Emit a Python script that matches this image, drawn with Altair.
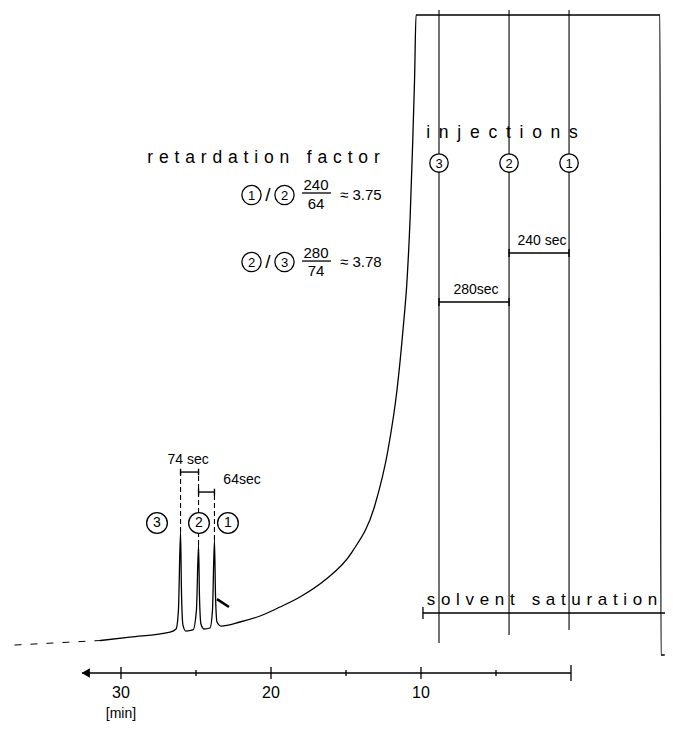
import altair as alt
import pandas as pd

FONT = "Liberation Sans"

# ---------------- data ----------------
# detector trace: time [min] (time runs right -> left) and signal (arbitrary units)
trace_time = [31.40, 29.40, 26.73, 26.33, 26.17, 26.03, 25.97, 25.87, 25.67, 25.20,
              24.97, 24.83, 24.77, 24.67, 24.47, 24.07, 23.90, 23.77, 23.70, 23.60,
              23.33, 22.07, 20.73, 19.40, 18.07, 16.40, 14.60, 13.07, 12.20, 11.60,
              11.20, 10.93, 10.73, 10.57, 10.43, 10.33, -5.93, -6.00, -6.25]
trace_signal = [4.92, 5.45, 6.21, 6.67, 9.55, 21.36, 12.58, 7.27, 6.36, 6.52,
                9.55, 19.39, 11.82, 7.42, 6.67, 6.82, 9.55, 20.15, 11.82, 7.73,
                7.12, 7.73, 8.64, 10.00, 11.52, 14.09, 18.33, 25.45, 33.79, 42.88,
                51.97, 59.55, 68.64, 79.24, 89.85, 99.70, 99.70, 2.73, 2.73]
early_time = [37.1, 31.4]
early_signal = [4.24, 4.92]

peak_names = ["1", "2", "3"]
peak_time = [23.77, 24.83, 26.03]
peak_height = [20.15, 19.39, 21.36]
peak_gaps = ["64sec", "74 sec"]

inj_names = ["1", "2", "3"]
inj_time = [0.13, 4.13, 8.80]
inj_gaps = ["240 sec", "280sec"]

ratio_pairs = [("1", "2"), ("2", "3")]
ratio_num = ["240", "280"]
ratio_den = ["64", "74"]
ratio_val = ["3.75", "3.78"]

axis_major = [30, 20, 10]
axis_minor = [25, 15, 5]
axis_end = 0

title_ret = "retardation factor"
title_inj = "injections"
title_solv = "solvent saturation"
time_unit = "[min]"


def spaced(s, gap="\u2004", word="\u2003"):
    return word.join(gap.join(list(w)) for w in s.split(" "))


# ---------------- scales ----------------
xs = alt.Scale(domain=[-6.267, 37.533], reverse=True, nice=False, zero=False)
ys = alt.Scale(domain=[-7.27, 100.76], nice=False, zero=False)
X = alt.X("t:Q", scale=xs, axis=None)
Y = alt.Y("v:Q", scale=ys, axis=None)


def rules(rows, width=1.2, dash=None):
    df = pd.DataFrame(rows, columns=["t", "t2", "v", "v2"])
    kw = dict(color="black", strokeWidth=width)
    if dash:
        kw["strokeDash"] = dash
    return alt.Chart(df).mark_rule(**kw).encode(
        x=X, x2=alt.X2("t2:Q"), y=Y, y2=alt.Y2("v2:Q"))


def texts(rows, size, align="center", baseline="middle"):
    df = pd.DataFrame(rows, columns=["t", "v", "label"])
    return alt.Chart(df).mark_text(font=FONT, fontSize=size, align=align,
                                   baseline=baseline, color="black").encode(
        x=X, y=Y, text="label:N")


def circles(rows, size, fsize=13):
    df = pd.DataFrame(rows, columns=["t", "v", "label"])
    c = alt.Chart(df).mark_point(shape="circle", filled=True, fill="white",
                                 stroke="black", strokeWidth=1.3, opacity=1).encode(
        x=X, y=Y, size=alt.value(size))
    t = alt.Chart(df).mark_text(font=FONT, fontSize=fsize, color="black",
                                baseline="middle", dy=0.5).encode(x=X, y=Y, text="label:N")
    return c + t


layers = []

# trace
tr = pd.DataFrame({"t": trace_time, "v": trace_signal, "i": range(len(trace_time))})
layers.append(alt.Chart(tr).mark_line(color="black", strokeWidth=1.3,
                                      interpolate="monotone").encode(
    x=X, y=Y, order="i:Q"))
er = pd.DataFrame({"t": early_time, "v": early_signal})
layers.append(alt.Chart(er).mark_line(color="black", strokeWidth=1,
                                      strokeDash=[7, 9]).encode(x=X, y=Y))

# small wedge after peak 1
layers.append(rules([(23.6, 22.8, 11.2, 10.0)], width=2.5))

# injection lines
inj_bottom = [6.52, 5.76, 4.55]
layers.append(rules([(t, t, b, 100.45) for t, b in zip(inj_time, inj_bottom)], width=1.1))

# injection interval brackets
b1, b2 = 63.64, 56.21
layers.append(rules([(inj_time[0], inj_time[1], b1, b1),
                     (inj_time[1], inj_time[2], b2, b2),
                     (inj_time[0], inj_time[0], b1 - 0.6, b1 + 0.6),
                     (inj_time[1], inj_time[1], b1 - 0.6, b1 + 0.6),
                     (inj_time[1], inj_time[1], b2 - 0.6, b2 + 0.6),
                     (inj_time[2], inj_time[2], b2 - 0.6, b2 + 0.6)], width=1.4))

# peak dashed connectors and brackets
p74, p64 = 30.45, 27.42
layers.append(rules([(peak_time[2], peak_time[2], peak_height[2], p74),
                     (peak_time[1], peak_time[1], peak_height[1], p74),
                     (peak_time[0], peak_time[0], peak_height[0], p64)],
                    width=1.1, dash=[5, 3]))
layers.append(rules([(peak_time[2], peak_time[1], p74, p74),
                     (peak_time[1], peak_time[0], p64, p64),
                     (peak_time[2], peak_time[2], p74 - 0.5, p74 + 0.5),
                     (peak_time[1], peak_time[1], p74 - 0.5, p74 + 0.5),
                     (peak_time[1], peak_time[1], p64 - 0.5, p64 + 0.5),
                     (peak_time[0], peak_time[0], p64 - 0.5, p64 + 0.5)], width=1.4))

# solvent saturation bar
sv = 9.09
layers.append(rules([(9.87, -6.267, sv, sv), (9.87, 9.87, sv - 0.9, sv + 0.9)], width=1.3))

# time axis
layers.append(rules([(32.6, axis_end, 0, 0)]
                    + [(m, m, -0.9, 0.9) for m in axis_major]
                    + [(m, m, -0.45, 0.45) for m in axis_minor]
                    + [(axis_end, axis_end, -1.2, 1.2)], width=1.3))
arrow = pd.DataFrame({"t": [32.35], "v": [0]})
layers.append(alt.Chart(arrow).mark_point(shape="triangle-left", filled=True,
                                          color="black", size=90, opacity=1).encode(x=X, y=Y))
layers.append(texts([(m, -3.03, str(m)) for m in axis_major], 16))
layers.append(texts([(30, -6.2, time_unit)], 14))

# fraction bars
layers.append(rules([(17.93, 16.0, 72.73, 72.73), (17.93, 16.0, 62.42, 62.42)], width=1.3))

# circles: injections, peaks, ratios
layers.append(circles([(t, 77.27, n) for t, n in zip(inj_time, inj_names)], 340))
peak_circle_t = [22.87, 24.80, 27.60]
layers.append(circles([(t, 22.73, n) for t, n in zip(peak_circle_t, peak_names)], 430, 14))
ratio_rows_v = [72.42, 62.27]
crow = []
for (a, b), vv in zip(ratio_pairs, ratio_rows_v):
    crow += [(21.3, vv, a), (19.1, vv, b)]
layers.append(circles(crow, 370))

# text
layers.append(texts([(20.2, vv, "/") for vv in ratio_rows_v], 19))
layers.append(texts([(17.0, 73.94, ratio_num[0]), (17.0, 71.06, ratio_den[0]),
                     (17.0, 63.64, ratio_num[1]), (17.0, 60.91, ratio_den[1])], 15))
layers.append(texts([(15.4, vv, "\u2248 " + r) for vv, r in zip(ratio_rows_v, ratio_val)],
                    15, align="left"))
layers.append(texts([(20.5, 78.03, spaced(title_ret)),
                     (4.6, 81.82, spaced(title_inj, gap="\u2002"))], 17.5))
layers.append(texts([(1.93, 11.06, spaced(title_solv))], 17))
layers.append(texts([(1.93, 65.45, inj_gaps[0]), (6.33, 58.03, inj_gaps[1]),
                     (25.53, 32.27, peak_gaps[1]), (21.93, 29.24, peak_gaps[0])], 14))

chart = alt.layer(*layers).properties(
    width=657, height=713, autosize=alt.AutoSizeParams(type="none"), padding=0,
    background="white"
).configure_view(stroke=None)

chart.save("out.html", embed_options={"renderer": "svg", "actions": False})
